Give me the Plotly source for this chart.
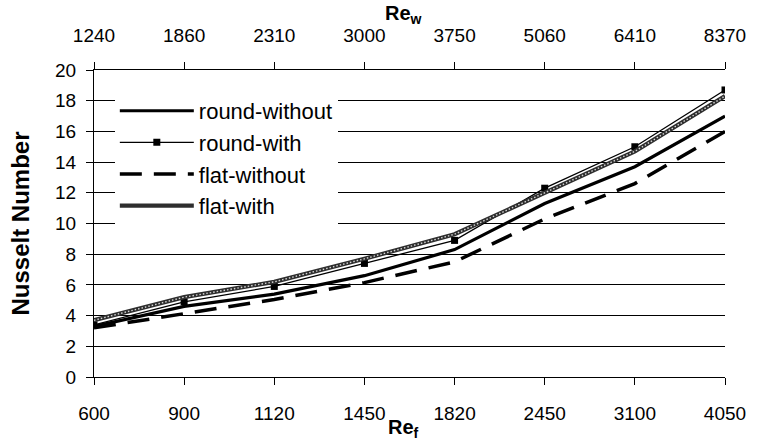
import plotly.graph_objects as go

re_f = ["600", "900", "1120", "1450", "1820", "2450", "3100", "4050"]
re_w = ["1240", "1860", "2310", "3000", "3750", "5060", "6410", "8370"]
round_without = [3.3, 4.6, 5.4, 6.6, 8.3, 11.3, 13.7, 17.0]
round_with = [3.4, 4.9, 5.9, 7.4, 8.9, 12.3, 15.0, 18.7]
flat_without = [3.2, 4.1, 5.05, 6.15, 7.5, 10.3, 12.6, 16.0]
flat_with = [3.7, 5.2, 6.2, 7.7, 9.3, 12.0, 14.7, 18.3]
y_ticks = list(range(0, 21, 2))

FONT = "Arial, Liberation Sans, sans-serif"

fig = go.Figure()
fig.add_trace(go.Scatter(x=re_f, y=round_without, name="round-without", mode="lines",
                         line=dict(color="black", width=3.2)))
fig.add_trace(go.Scatter(x=re_f, y=round_with, name="round-with", mode="lines+markers",
                         line=dict(color="black", width=1.3),
                         marker=dict(symbol="square", size=7, color="black")))
fig.add_trace(go.Scatter(x=re_f, y=flat_without, name="flat-without", mode="lines",
                         line=dict(color="black", width=3.5, dash="22px,12px")))
fig.add_trace(go.Scatter(x=re_f, y=flat_with, name="flat-with", mode="lines",
                         line=dict(color="#2e2e2e", width=4.2)))
fig.add_trace(go.Scatter(x=re_f, y=flat_with, showlegend=False, mode="lines", hoverinfo="skip",
                         line=dict(color="rgba(255,255,255,0.8)", width=1.4, dash="1.5px,2px")))
# top axis carrier
fig.add_trace(go.Scatter(x=re_w, y=round_with, xaxis="x2", showlegend=False, mode="lines",
                         hoverinfo="skip", line=dict(color="rgba(0,0,0,0)", width=0)))

fig.update_layout(
    width=758, height=441,
    margin=dict(l=94, r=26, t=70, b=64),
    paper_bgcolor="white", plot_bgcolor="white",
    font=dict(family=FONT, size=19, color="black"),
    showlegend=True,
    legend=dict(x=0.033, y=0.935, xanchor="left", yanchor="top",
                bgcolor="white", borderwidth=0,
                font=dict(family=FONT, size=22, color="black"),
                itemwidth=74, tracegroupgap=0),
    xaxis=dict(type="category", categoryarray=re_f, range=[0, 7],
               showline=True, linecolor="black", linewidth=1,
               ticks="outside", ticklen=7, tickcolor="black",
               showgrid=False, zeroline=False, ticklabelstandoff=12,
               tickfont=dict(size=19)),
    xaxis2=dict(type="category", categoryarray=re_w, range=[0, 7],
                overlaying="x", side="top", anchor="y",
                showline=True, linecolor="black", linewidth=1,
                ticks="outside", ticklen=7, tickcolor="black",
                showgrid=False, zeroline=False, ticklabelstandoff=12,
                tickfont=dict(size=19)),
    yaxis=dict(range=[0, 20], tickvals=y_ticks, showline=True, linecolor="black", linewidth=1,
               ticks="outside", ticklen=7, tickcolor="black",
               showgrid=True, gridcolor="black", gridwidth=1, zeroline=False,
               ticklabelstandoff=6, tickfont=dict(size=19)),
    annotations=[
        dict(text="<b>Re<sub>f</sub></b>", xref="paper", yref="paper", x=0.49, y=0,
             yshift=-51, xanchor="center", yanchor="middle", showarrow=False,
             font=dict(size=20)),
        dict(text="<b>Re<sub>w</sub></b>", xref="paper", yref="paper", x=0.49, y=1,
             yshift=56, xanchor="center", yanchor="middle", showarrow=False,
             font=dict(size=20)),
        dict(text="<b>Nusselt Number</b>", xref="paper", yref="paper", x=0, y=0.5,
             xshift=-74, textangle=-90, xanchor="center", yanchor="middle", showarrow=False,
             font=dict(size=24)),
    ],
)

fig.write_html("out.html")
